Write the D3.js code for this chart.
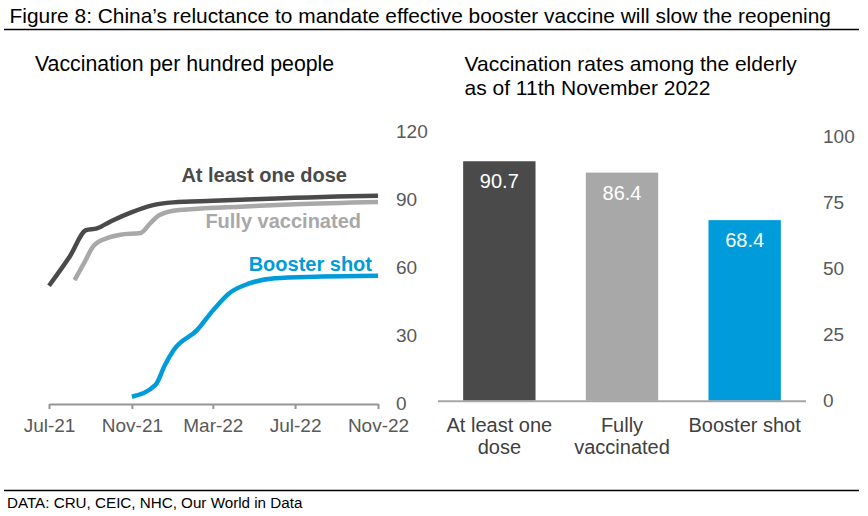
<!DOCTYPE html>
<html>
<head>
<meta charset="utf-8">
<script src="https://cdn.jsdelivr.net/npm/d3@7"></script>
<style>
  body { margin: 0; background: #fff; }
  svg text { font-family: "Liberation Sans", Arial, sans-serif; }
</style>
</head>
<body>
<div id="chart"></div>
<script>
// ---- data ----
const doseDates = ["2021-07-01", "2021-08-01", "2021-08-25", "2021-09-10", "2021-10-01", "2021-11-01", "2021-12-01",
    "2022-01-01", "2022-03-01", "2022-05-01", "2022-07-01", "2022-09-01", "2022-11-01"];
const doseValues = [52, 65, 76.5, 77.3, 80.5, 84.5, 87.5, 88.8, 89.5, 90.2, 90.8, 91.4, 91.7];

const fullyDates = ["2021-08-08", "2021-08-22", "2021-09-05", "2021-09-25", "2021-10-15", "2021-11-14", "2021-11-28",
    "2021-12-12", "2022-01-10", "2022-04-10", "2022-07-01", "2022-11-01"];
const fullyValues = [54.5, 62, 69.5, 73, 74.5, 75.3, 79.5, 83.2, 85.4, 86.9, 88, 89];

const boosterDates = ["2021-11-01", "2021-12-06", "2021-12-20", "2022-01-02", "2022-02-06", "2022-03-01", "2022-03-25",
    "2022-04-24", "2022-06-01", "2022-08-01", "2022-11-01"];
const boosterValues = [3, 8.2, 17, 23.6, 32.5, 41, 48.6, 53, 55.3, 56, 56.4];

const lineTicks = ["2021-07-01", "2021-11-01", "2022-03-01", "2022-07-01", "2022-11-01"];
const lineYTicks = [0, 30, 60, 90, 120];

const barCategories = [["At least one", "dose"], ["Fully", "vaccinated"], ["Booster shot"]];
const barValues = [90.7, 86.4, 68.4];
const barYTicks = [0, 25, 50, 75, 100];

const colors = ["#4a4a4a", "#a8a8a8", "#009bdb"];

// ---- layout ----
const W = 868, H = 516;
const parse = d3.timeParse("%Y-%m-%d");

const svg = d3.select("#chart").append("svg")
    .attr("width", W)
    .attr("height", H);

// title + rules
svg.append("text")
    .attr("x", 9.5).attr("y", 23)
    .style("font-size", "20.9px")
    .attr("fill", "#000")
    .text("Figure 8: China’s reluctance to mandate effective booster vaccine will slow the reopening");

svg.append("line")
    .attr("x1", 4).attr("x2", 859).attr("y1", 29.5).attr("y2", 29.5)
    .attr("stroke", "#000").attr("stroke-width", 1.3);

svg.append("line")
    .attr("x1", 4).attr("x2", 859).attr("y1", 490.5).attr("y2", 490.5)
    .attr("stroke", "#000").attr("stroke-width", 1.3);

svg.append("text")
    .attr("x", 7).attr("y", 508)
    .style("font-size", "15.2px")
    .attr("fill", "#000")
    .text("DATA: CRU, CEIC, NHC, Our World in Data");

// ---- left: line chart ----
const left = svg.append("g").attr("class", "lineChart");

left.append("text")
    .attr("x", 35).attr("y", 70.5)
    .style("font-size", "21.3px")
    .attr("fill", "#000")
    .text("Vaccination per hundred people");

const x = d3.scaleTime()
    .domain([parse("2021-07-01"), parse("2022-11-01")])
    .range([49, 378]);

const y = d3.scaleLinear()
    .domain([0, 120])
    .range([403.5, 131.7]);

const xAxis = left.append("g")
    .attr("transform", "translate(0,404)")
    .call(d3.axisBottom(x)
        .tickValues(lineTicks.map(parse))
        .tickFormat(d3.timeFormat("%b-%y"))
        .tickSize(5)
        .tickSizeOuter(0)
        .tickPadding(10));
xAxis.select(".domain").attr("stroke", "#969696").attr("stroke-width", 2);
xAxis.selectAll(".tick line").attr("stroke", "#969696").attr("stroke-width", 2);
xAxis.selectAll(".tick text")
    .style("font-size", "19px")
    .style("font-family", "'Liberation Sans', Arial, sans-serif")
    .attr("fill", "#595959");

const yAxis = left.append("g")
    .attr("transform", "translate(396,0)")
    .call(d3.axisRight(y).tickValues(lineYTicks).tickSize(0).tickPadding(0));
yAxis.select(".domain").remove();
yAxis.selectAll(".tick text")
    .style("font-size", "19px")
    .style("font-family", "'Liberation Sans', Arial, sans-serif")
    .attr("fill", "#595959");

const series = [
    { name: "At least one dose", dates: doseDates, values: doseValues },
    { name: "Fully vaccinated", dates: fullyDates, values: fullyValues },
    { name: "Booster shot", dates: boosterDates, values: boosterValues }
];

const line = d3.line()
    .x(d => x(d[0]))
    .y(d => y(d[1]))
    .curve(d3.curveMonotoneX);

// draw fully first so the dark line sits on top where they meet
[1, 0, 2].forEach(i => {
    const s = series[i];
    const pts = s.dates.map((d, j) => [parse(d), s.values[j]]);
    left.append("path")
        .datum(pts)
        .attr("fill", "none")
        .attr("stroke", colors[i])
        .attr("stroke-width", 4.5)
        .attr("stroke-linejoin", "round")
        .attr("d", line);
});

// series labels, right-aligned near the line ends
const labelPos = [
    { dx: -31, v: 97.9 },
    { dx: -17, v: 77.5 },
    { dx: -6, v: 58.6 }
];
series.forEach((s, i) => {
    left.append("text")
        .attr("x", x.range()[1] + labelPos[i].dx)
        .attr("y", y(labelPos[i].v))
        .attr("text-anchor", "end")
        .style("font-size", "20px")
        .style("font-weight", "bold")
        .attr("fill", colors[i])
        .text(s.name);
});

// ---- right: bar chart ----
const right = svg.append("g").attr("class", "barChart");

right.append("text")
    .attr("x", 464.5).attr("y", 71)
    .style("font-size", "21px")
    .attr("fill", "#000")
    .selectAll("tspan")
    .data(["Vaccination rates among the elderly", "as of 11th November 2022"])
    .enter().append("tspan")
    .attr("x", 464.5)
    .attr("dy", (d, i) => i === 0 ? 0 : 23.5)
    .text(d => d);

const bx = d3.scaleBand()
    .domain(d3.range(barValues.length))
    .range([438, 806])
    .paddingInner(0.41)
    .paddingOuter(0.205);

const by = d3.scaleLinear()
    .domain([0, 100])
    .range([400.7, 136.7]);

right.selectAll(".bar")
    .data(barValues)
    .enter().append("rect")
    .attr("class", "bar")
    .attr("x", (d, i) => bx(i))
    .attr("y", d => by(d))
    .attr("width", bx.bandwidth())
    .attr("height", d => by(0) - by(d))
    .attr("fill", (d, i) => colors[i]);

right.selectAll(".barValue")
    .data(barValues)
    .enter().append("text")
    .attr("class", "barValue")
    .attr("x", (d, i) => bx(i) + bx.bandwidth() / 2)
    .attr("y", d => by(d) + 27)
    .attr("text-anchor", "middle")
    .style("font-size", "20px")
    .attr("fill", "#fff")
    .text(d => d.toFixed(1));

right.append("line")
    .attr("x1", bx.range()[0]).attr("x2", bx.range()[1])
    .attr("y1", by(0) + 0.5).attr("y2", by(0) + 0.5)
    .attr("stroke", "#a6a6a6").attr("stroke-width", 2);

const catText = right.selectAll(".barCat")
    .data(barCategories)
    .enter().append("text")
    .attr("class", "barCat")
    .attr("text-anchor", "middle")
    .attr("y", by(0) + 31)
    .style("font-size", "20px")
    .attr("fill", "#404040");
catText.selectAll("tspan")
    .data((d, i) => d.map(t => ({ t: t, i: i })))
    .enter().append("tspan")
    .attr("x", d => bx(d.i) + bx.bandwidth() / 2)
    .attr("dy", (d, j) => j === 0 ? 0 : 22.5)
    .text(d => d.t);

const byAxis = right.append("g")
    .attr("transform", "translate(823,0)")
    .call(d3.axisRight(by).tickValues(barYTicks).tickSize(0).tickPadding(0));
byAxis.select(".domain").remove();
byAxis.selectAll(".tick text")
    .style("font-size", "19px")
    .style("font-family", "'Liberation Sans', Arial, sans-serif")
    .attr("fill", "#595959");
</script>
</body>
</html>
